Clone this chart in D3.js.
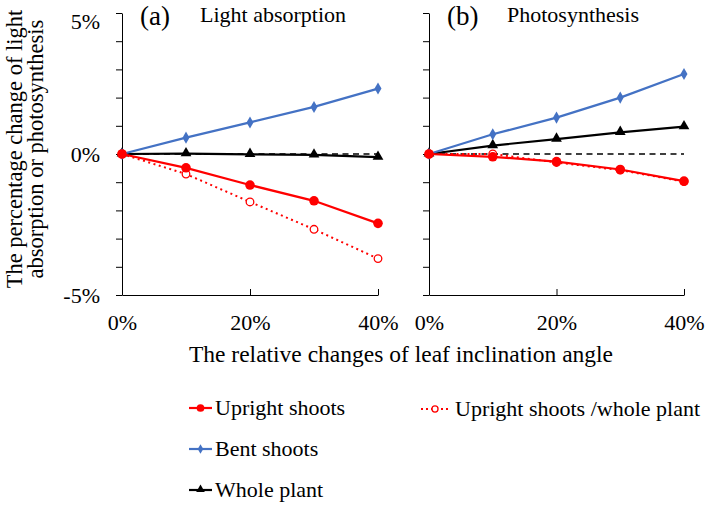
<!DOCTYPE html>
<html>
<head>
<meta charset="utf-8" />
<script src="https://d3js.org/d3.v7.min.js"></script>
<style>
  body { margin: 0; background: #fff; }
  svg text { font-family: "Liberation Serif", "Times New Roman", serif; fill: #000; }
  .axis path, .axis line { stroke: #000; stroke-width: 1; }
</style>
</head>
<body>
<svg id="chart" width="709" height="506"></svg>
<script>
// x positions: relative change of leaf inclination angle (%)
var angles = [0, 10, 20, 30, 40];
var xTicks = [0, 20, 40];
var yTicks = [-5, -4, -3, -2, -1, 0, 1, 2, 3, 4, 5];
var yLabels = [-5, 0, 5];

// (a) light absorption, % change
var absUpright = [0, -0.49, -1.10, -1.66, -2.46];
var absBent = [0, 0.58, 1.12, 1.67, 2.32];
var absWhole = [0, 0.01, -0.01, -0.03, -0.11];
var absUprightWhole = [0, -0.71, -1.70, -2.67, -3.71];

// (b) photosynthesis, % change
var phoUpright = [0, -0.10, -0.27, -0.55, -0.96];
var phoBent = [0, 0.70, 1.29, 2.00, 2.84];
var phoWhole = [0, 0.30, 0.53, 0.77, 0.97];
var phoUprightWhole = [0, 0.0, -0.30, -0.57, -0.98];

var RED = "#ff0000", BLUE = "#4472c4", BLACK = "#000000";

var svg = d3.select("#chart");

var panels = [
  { left: 122, right: 378, tag: "(a)", title: "Light absorption", labels: true,
    series: [
      { name: "Upright shoots /whole plant", values: absUprightWhole, color: RED, dash: "2,3.5", marker: "open" },
      { name: "Whole plant", values: absWhole, color: BLACK, marker: "triangle" },
      { name: "Bent shoots", values: absBent, color: BLUE, marker: "diamond" },
      { name: "Upright shoots", values: absUpright, color: RED, marker: "circle" }
    ] },
  { left: 429, right: 684, tag: "(b)", title: "Photosynthesis", labels: false,
    series: [
      { name: "Upright shoots /whole plant", values: phoUprightWhole, color: RED, dash: "2,3.5", marker: "open" },
      { name: "Whole plant", values: phoWhole, color: BLACK, marker: "triangle" },
      { name: "Bent shoots", values: phoBent, color: BLUE, marker: "diamond" },
      { name: "Upright shoots", values: phoUpright, color: RED, marker: "circle" }
    ] }
];

var y = d3.scaleLinear().domain([-5, 5]).range([295, 13]);

function drawMarker(g, type, cx, cy, color, small) {
  var k = small ? 0.8 : 1;
  if (type === "circle") {
    g.append("circle").attr("cx", cx).attr("cy", cy).attr("r", 4.8 * k).attr("fill", color);
  } else if (type === "open") {
    g.append("circle").attr("cx", cx).attr("cy", cy).attr("r", 3.8 * k)
      .attr("fill", "#fff").attr("stroke", color).attr("stroke-width", 1.3);
  } else if (type === "diamond") {
    g.append("path").attr("d", d3.symbol().type(d3.symbolDiamond).size(42 * k * k))
      .attr("transform", "translate(" + cx + "," + cy + ")").attr("fill", color);
  } else if (type === "triangle") {
    g.append("path").attr("d", d3.symbol().type(d3.symbolTriangle).size(50 * k * k))
      .attr("transform", "translate(" + cx + "," + (cy - 0.5) + ")").attr("fill", color);
  }
}

panels.forEach(function(p) {
  var x = d3.scaleLinear().domain([0, 40]).range([p.left, p.right]);
  var g = svg.append("g");

  // y axis
  var yAxis = g.append("g").attr("class", "axis")
    .attr("transform", "translate(" + p.left + ",0)")
    .call(d3.axisLeft(y).tickValues(yTicks).tickSizeInner(6).tickSizeOuter(0).tickPadding(16)
      .tickFormat(function(d) { return (p.labels && yLabels.indexOf(d) >= 0) ? d + "%" : ""; }));
  yAxis.selectAll("text").style("font-size", "22px")
    .attr("dy", "0.34em")
    .filter(function(d) { return d === 5; }).attr("dy", "0.70em");

  // x axis, ticks pointing inward
  var xAxis = g.append("g").attr("class", "axis")
    .attr("transform", "translate(0," + y(-5) + ")")
    .call(d3.axisBottom(x).tickValues(xTicks).tickSizeInner(-6).tickSizeOuter(0)
      .tickFormat(function(d) { return d + "%"; }));
  xAxis.selectAll("text").style("font-size", "22px").attr("y", 35).attr("dy", 0);

  // zero reference line
  g.append("line")
    .attr("x1", x(0)).attr("x2", x(40)).attr("y1", y(0)).attr("y2", y(0))
    .attr("stroke", BLACK).attr("stroke-width", 1.4).attr("stroke-dasharray", "6,4.5");

  var line = d3.line()
    .x(function(d, i) { return x(angles[i]); })
    .y(function(d) { return y(d); });

  p.series.forEach(function(s) {
    g.append("path").datum(s.values)
      .attr("d", line)
      .attr("fill", "none")
      .attr("stroke", s.color)
      .attr("stroke-width", s.dash ? 2 : 2.2)
      .attr("stroke-dasharray", s.dash || null);
    s.values.forEach(function(v, i) {
      drawMarker(g, s.marker, x(angles[i]), y(v), s.color, false);
    });
  });

  // panel titles
  g.append("text").attr("x", p.left + 18).attr("y", 25).style("font-size", "27px").text(p.tag);
  g.append("text").attr("x", p.left + 78).attr("y", 22).style("font-size", "22px").text(p.title);
});

// y axis title
svg.append("text")
  .attr("transform", "translate(22,149) rotate(-90)")
  .attr("text-anchor", "middle").style("font-size", "22.5px")
  .text("The percentage change of light");
svg.append("text")
  .attr("transform", "translate(43,149) rotate(-90)")
  .attr("text-anchor", "middle").style("font-size", "22.5px")
  .text("absorption or photosynthesis");

// x axis title
svg.append("text")
  .attr("x", 401).attr("y", 362)
  .attr("text-anchor", "middle").style("font-size", "23.5px")
  .text("The relative changes of leaf inclination angle");

// legend
var legendItems = [
  { name: "Upright shoots", color: RED, marker: "circle", x: 189, y: 408 },
  { name: "Bent shoots", color: BLUE, marker: "diamond", x: 189, y: 449 },
  { name: "Whole plant", color: BLACK, marker: "triangle", x: 189, y: 490 },
  { name: "Upright shoots /whole plant", color: RED, marker: "open", dash: "2,3", x: 421, y: 409 }
];
var lg = svg.append("g");
legendItems.forEach(function(d) {
  var w = d.dash ? 28 : 23;
  lg.append("line")
    .attr("x1", d.x).attr("x2", d.x + w).attr("y1", d.y).attr("y2", d.y)
    .attr("stroke", d.color).attr("stroke-width", d.dash ? 2 : 2.2)
    .attr("stroke-dasharray", d.dash || null);
  drawMarker(lg, d.marker, d.x + w / 2, d.y, d.color, true);
  lg.append("text").attr("x", d.x + w + (d.dash ? 6 : 3)).attr("y", d.y + 7)
    .style("font-size", "22px").text(d.name);
});
</script>
</body>
</html>
